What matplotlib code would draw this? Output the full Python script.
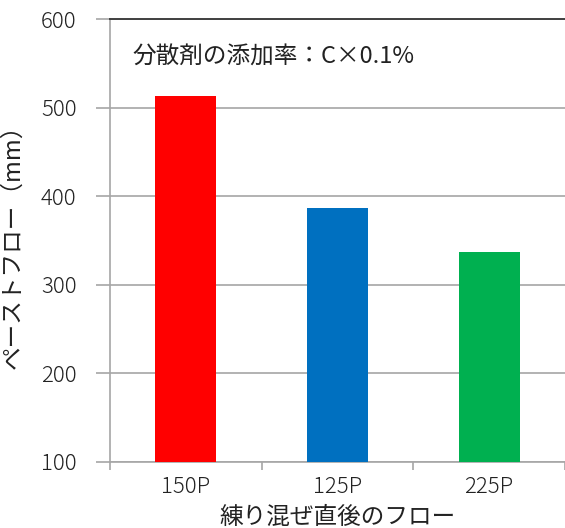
import matplotlib
matplotlib.use("Agg")
import matplotlib.pyplot as plt

categories = ["150P", "125P", "225P"]
values = [513, 387, 337]
colors = ["#ff0000", "#0070c0", "#00b050"]
yticks = [100, 200, 300, 400, 500, 600]
ylabel = "ペーストフロー（mm）"
xlabel = "練り混ぜ直後のフロー"
note = "分散剤の添加率：C×0.1%"

plt.rcParams['font.family'] = ['Noto Sans CJK JP', 'DejaVu Sans']

fig = plt.figure(figsize=(5.65, 5.28), dpi=100)
ax = fig.add_axes([110/565, 1-462/528, 455/565, 443/528])

x = list(range(len(categories)))
ax.bar(x, values, width=0.4, color=colors, zorder=3)
ax.set_xlim(-0.5, 2.5)
ax.set_ylim(100, 600)
ax.set_yticks(yticks)
ax.set_yticklabels([str(v) for v in yticks], fontsize=16, color="#222222", fontweight='light')
ax.yaxis.grid(True, color="#a6a6a6", linewidth=1.2, zorder=0)
ax.set_axisbelow(True)

ax.set_xticks(x)
ax.set_xticklabels(categories, fontsize=16, color="#222222", fontweight='light')
ax.tick_params(axis='x', length=0, pad=10)
ax.set_xticks([-0.5, 0.5, 1.5, 2.5], minor=True)
ax.tick_params(axis='x', which='minor', length=6, color="#a6a6a6", width=1.2)
ax.tick_params(axis='y', length=10, color="#a6a6a6", width=1.2, pad=14)

for s in ["left", "bottom"]:
    ax.spines[s].set_color("#a6a6a6")
    ax.spines[s].set_linewidth(1.2)
ax.spines["top"].set_color("#404040")
ax.spines["top"].set_linewidth(1.4)
ax.spines["right"].set_visible(False)

ax.set_ylabel(ylabel, fontsize=17, color="#222222", labelpad=12, fontweight='normal')
ax.set_xlabel(xlabel, fontsize=17, color="#222222", labelpad=6, fontweight='normal')

ax.text(0.05, 0.915, note, transform=ax.transAxes, fontsize=17, color="#222222",
        va="center", ha="left", fontweight='normal')

fig.savefig("out.png", dpi=100)
